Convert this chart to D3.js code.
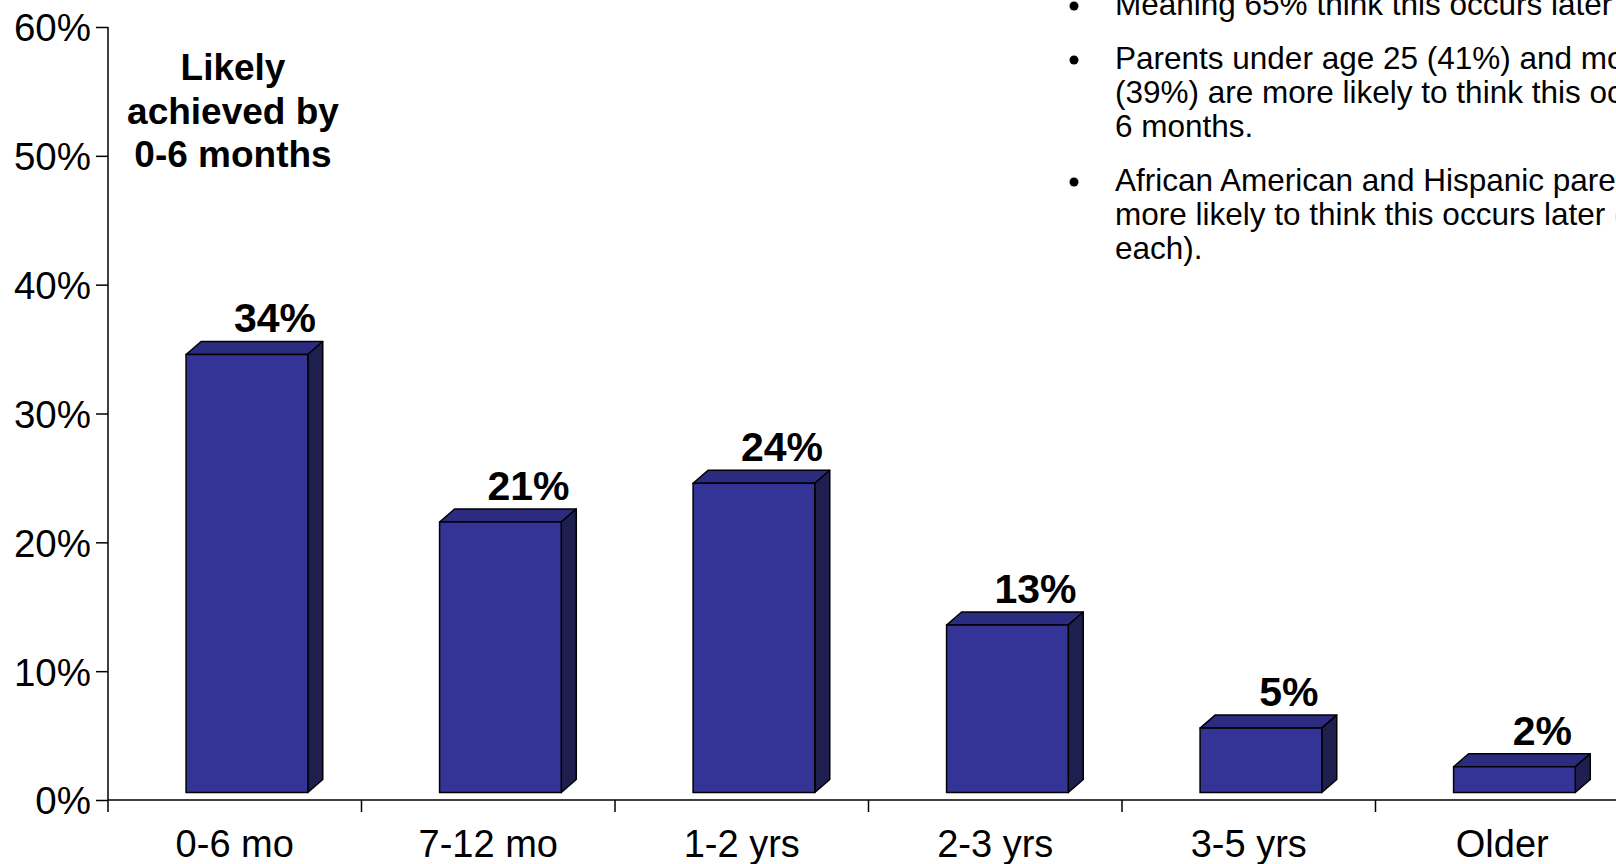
<!DOCTYPE html>
<html>
<head>
<meta charset="utf-8">
<script src="https://cdn.jsdelivr.net/npm/d3@7"></script>
<style>
  body { margin: 0; background: #fff; }
  svg { display: block; font-family: Arial, "Liberation Sans", sans-serif; }
</style>
</head>
<body>
<div id="chart"></div>
<script>
var width = 1616
var height = 864

// data
var categories = ['0-6 mo', '7-12 mo', '1-2 yrs', '2-3 yrs', '3-5 yrs', 'Older'];
var values = [34, 21, 24, 13, 5, 2];
var yTicks = [0, 10, 20, 30, 40, 50, 60];
var noteLines = ['Likely', 'achieved by', '0-6 months'];
var bullets = [
  ['Meaning 65% think this occurs later than 6 months.'],
  ['Parents under age 25 (41%) and mothers', '(39%) are more likely to think this occurs by', '6 months.'],
  ['African American and Hispanic parents are', 'more likely to think this occurs later (70%', 'each).']
];

var svg = d3.select('#chart')
            .append('svg')
            .attr('width', width)
            .attr('height', height);

var x0 = 108, band = 253.5;
var x = d3.scaleBand().domain(categories).range([x0, x0 + band * categories.length]).padding(0);
var y = d3.scaleLinear().domain([0, 60]).range([800, 27]);

// 3d look
var depthX = 15, depthY = -13, lift = 7.5;
var barW = x.bandwidth() * 0.48;
var barShift = x.bandwidth() * 0.048;

var bars = svg.selectAll('g.bar')
              .data(values)
              .enter()
              .append('g')
              .attr('class', 'bar');

function geom(d, i) {
    var c = x(categories[i]) + x.bandwidth() / 2 + barShift;
    return { L: c - barW / 2, R: c + barW / 2, T: y(d) - lift, B: y(0) - lift };
}

bars.append('polygon')
    .attr('points', function (d, i) {
        var g = geom(d, i);
        return [[g.L, g.T], [g.L + depthX, g.T + depthY], [g.R + depthX, g.T + depthY], [g.R, g.T]].join(' ');
    })
    .attr('fill', '#2b2b80')
    .attr('stroke', '#000')
    .attr('stroke-width', 1.5)
    .attr('stroke-linejoin', 'round');

bars.append('polygon')
    .attr('points', function (d, i) {
        var g = geom(d, i);
        return [[g.R, g.T], [g.R + depthX, g.T + depthY], [g.R + depthX, g.B + depthY], [g.R, g.B]].join(' ');
    })
    .attr('fill', '#1e1e4f')
    .attr('stroke', '#000')
    .attr('stroke-width', 1.5)
    .attr('stroke-linejoin', 'round');

bars.append('rect')
    .attr('x', function (d, i) { return geom(d, i).L; })
    .attr('y', function (d, i) { return geom(d, i).T; })
    .attr('width', barW)
    .attr('height', function (d, i) { var g = geom(d, i); return g.B - g.T; })
    .attr('fill', '#343497')
    .attr('stroke', '#000')
    .attr('stroke-width', 1.5);

// value labels
bars.append('text')
    .attr('x', function (d, i) { var g = geom(d, i); return (g.L + g.R) / 2 + 28; })
    .attr('y', function (d, i) { return geom(d, i).T - 22; })
    .attr('text-anchor', 'middle')
    .attr('font-weight', 'bold')
    .attr('font-size', 41)
    .attr('fill', '#000')
    .text(function (d) { return d + '%'; });

// y axis
var yAxis = svg.append('g')
               .attr('transform', 'translate(' + x0 + ',0)')
               .call(d3.axisLeft(y).tickValues(yTicks).tickSize(12).tickPadding(5).tickFormat(function (d) { return d + '%'; }));
yAxis.select('.domain').remove();
yAxis.selectAll('line').attr('stroke', '#000').attr('stroke-width', 1.5);
yAxis.selectAll('text')
     .attr('dy', '0.36em')
     .attr('font-size', 38.5)
     .attr('font-family', 'Arial, "Liberation Sans", sans-serif')
     .attr('fill', '#000');
svg.append('line')
   .attr('x1', x0).attr('x2', x0)
   .attr('y1', y(60)).attr('y2', y(0) + 12)
   .attr('stroke', '#000').attr('stroke-width', 1.5);

// x axis
svg.append('line')
   .attr('x1', x0).attr('x2', width)
   .attr('y1', y(0)).attr('y2', y(0))
   .attr('stroke', '#000').attr('stroke-width', 1.5);
svg.selectAll('line.xtick')
   .data(categories)
   .enter()
   .append('line')
   .attr('class', 'xtick')
   .attr('x1', function (d) { return x(d) + x.bandwidth(); })
   .attr('x2', function (d) { return x(d) + x.bandwidth(); })
   .attr('y1', y(0)).attr('y2', y(0) + 12)
   .attr('stroke', '#000').attr('stroke-width', 1.5);
svg.selectAll('text.xlabel')
   .data(categories)
   .enter()
   .append('text')
   .attr('class', 'xlabel')
   .attr('x', function (d) { return x(d) + x.bandwidth() / 2; })
   .attr('y', 857)
   .attr('text-anchor', 'middle')
   .attr('font-size', 38)
   .text(function (d) { return d; });

// note
svg.selectAll('text.note')
   .data(noteLines)
   .enter()
   .append('text')
   .attr('class', 'note')
   .attr('x', 233)
   .attr('y', function (d, i) { return 80 + i * 43.5; })
   .attr('text-anchor', 'middle')
   .attr('font-weight', 'bold')
   .attr('font-size', 37)
   .text(function (d) { return d; });

// bullets
var by = 15;
bullets.forEach(function (para) {
    svg.append('circle').attr('cx', 1074).attr('cy', by - 9).attr('r', 4.5).attr('fill', '#000');
    para.forEach(function (line) {
        svg.append('text')
           .attr('x', 1115)
           .attr('y', by)
           .attr('font-size', 31.5)
           .attr('fill', '#000')
           .text(line);
        by += 34;
    });
    by += 20;
});
</script>
</body>
</html>
